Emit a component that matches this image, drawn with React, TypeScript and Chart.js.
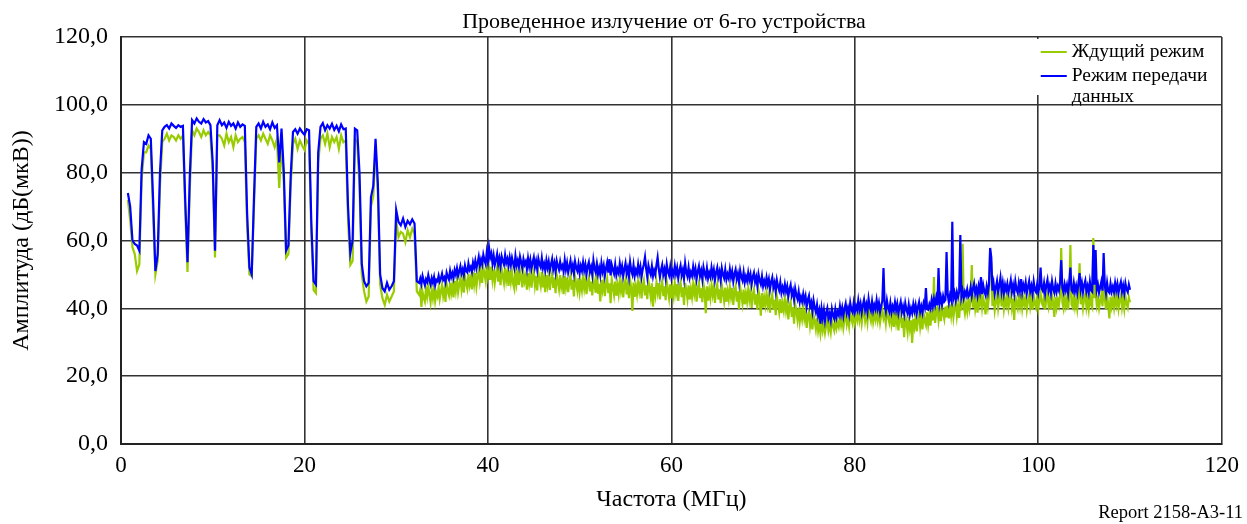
import React, { useEffect, useRef } from "react";
import { Chart, registerables } from "chart.js";

Chart.register(...registerables);

const TITLE = "Проведенное излучение от 6-го устройства";
const X_TITLE = "Частота (МГц)";
const Y_TITLE = "Амплитуда (дБ(мкВ))";
const REPORT = "Report 2158-A3-11";
const SERIES_NAMES = ["Ждущий режим", "Режим передачи данных"];

// sweep 1: 0.75 … 32.25 MHz, 0.25 MHz spacing
const SEG1_START = 0.75;
const SEG1_STEP = 0.25;
// sweep 2: 32.5 … 110 MHz, 0.125 MHz spacing
const SEG2_START = 32.5;
const SEG2_STEP = 0.125;

const X_TICKS = [0, 20, 40, 60, 80, 100, 120];
const Y_TICKS = [0, 20, 40, 60, 80, 100, 120];

// Режим передачи данных (blue), dB(µV), sweep 1
const transmitSeg1 = [
  74, 70, 60, 59, 58.5, 57, 81, 89, 88.5, 91,
  90, 72, 51, 56, 80, 92.5, 93.5, 94, 93, 94.5,
  93.8, 93.2, 94, 93.5, 93.8, 72, 53.6, 79, 95.5, 94.5,
  96, 95, 94.5, 95.8, 94.8, 95.2, 94, 83, 57, 94,
  95.5, 94, 94.8, 93.2, 95, 93.8, 94.5, 93, 94.8, 93.5,
  94.2, 93.8, 68, 52, 50, 73, 93.5, 94.5, 93, 95,
  93.5, 94.2, 92.8, 94.8, 93.2, 94, 83, 93, 80, 57,
  58.5, 79, 92, 92.8, 91.5, 93, 92, 91.2, 92.8, 92.5,
  65, 48, 47, 86, 93.5, 94.6, 92.5, 94, 93, 94.4,
  92.6, 93.8, 92.2, 94.2, 92.8, 93, 70, 56.3, 60, 93,
  92.5, 80, 53, 48, 46.5, 47.5, 72.8, 76, 90, 77,
  50, 46, 45, 47.5, 45.5, 46.5, 48, 69, 65.5, 64.5,
  66.5, 64, 65.8, 64.8, 66.2, 65, 48,
];

// Режим передачи данных (blue), sweep 2 (16 samples = 2 MHz per row)
const transmitSeg2 = [
  47.5, 48.8, 47.2, 49.5, 48.1, 46.9, 48.6, 47.8, 49.8, 48.2, 47, 48.9, 47.6, 49.2, 46.8, 48.4,
  48, 49.6, 47.9, 48.8, 50.2, 48.4, 49.1, 47.7, 50.5, 49.3, 48.5, 51, 49.2, 50.4, 48.9, 51.3,
  50, 51.8, 49.6, 50.9, 52.4, 50.3, 51.5, 49.8, 52.6, 51, 50.6, 53.2, 51.4, 52.2, 50.8, 53.5,
  52, 54, 51.8, 53.4, 55.2, 52.6, 54.4, 53, 55.8, 54.2, 53.1, 56.5, 54, 57.8, 55, 56.2,
  53.2, 55.5, 52.8, 54.2, 56, 53, 54.8, 52.5, 55.3, 53.9, 52.9, 55.7, 53.4, 54.6, 52.6, 55,
  52.8, 54.9, 53.3, 51.9, 55.4, 52.7, 54.1, 52.3, 55.2, 53.6, 51.8, 54.5, 52.9, 53.8, 51.6, 54.7,
  52.4, 54.3, 51.7, 53.5, 55, 52.2, 53.9, 51.5, 54.6, 53, 52.1, 54.8, 51.9, 53.2, 51.3, 54.1,
  52, 53.8, 51.2, 52.9, 54.5, 51.6, 53.3, 50.8, 54, 52.5, 51.4, 53.7, 51.8, 52.6, 50.9, 54.2,
  51.5, 53.4, 50.6, 52.3, 54, 51.2, 52.7, 50.3, 53.8, 52, 51, 53.1, 50.4, 52.5, 51.1, 53.6,
  51.2, 52.9, 50.1, 52.4, 53.6, 50.8, 52.2, 49.9, 54.1, 51.7, 50.6, 53, 50.2, 51.9, 49.8, 53.3,
  50.9, 52.6, 49.6, 51.8, 53.5, 50.5, 54.5, 49.7, 52.8, 51.4, 50.2, 52.9, 49.8, 51.5, 50.4, 53.2,
  50.7, 52.4, 49.5, 51.6, 53.3, 50.3, 51.9, 49.4, 53.6, 51.2, 50, 52.7, 49.6, 51.3, 50.2, 52.9,
  50.5, 52.3, 49.3, 51.5, 53, 55.1, 51.7, 49.2, 52.6, 51, 49.9, 52.4, 49.5, 51.2, 50, 52.8,
  55, 51.6, 49.2, 51.3, 52.8, 50, 51.5, 49, 52.9, 50.8, 49.7, 52.2, 49.3, 51, 49.8, 52.5,
  50.2, 51.9, 48.9, 51.1, 52.6, 49.8, 51.3, 48.8, 53.2, 50.6, 49.4, 52, 49.1, 50.7, 49.6, 52.3,
  50, 51.7, 48.7, 50.9, 52.4, 49.6, 51.1, 48.6, 52.1, 50.3, 49.2, 51.8, 48.9, 50.5, 49.3, 52,
  49.7, 51.4, 48.4, 50.6, 52, 49.3, 50.8, 48.3, 51.8, 50, 48.9, 51.4, 48.5, 50.1, 48.9, 51.5,
  49.2, 50.9, 47.9, 50.1, 51.4, 48.7, 50.2, 47.6, 51.1, 49.3, 48.2, 50.6, 47.7, 49.4, 48.1, 50.5,
  48.4, 50, 47.1, 49.3, 50.5, 47.8, 49.2, 46.6, 50, 48.2, 47.1, 49.4, 46.5, 48.1, 46.8, 49.1,
  47, 48.6, 45.6, 47.8, 49.1, 46.2, 47.6, 45, 48.3, 46.5, 45.3, 47.6, 44.6, 46.2, 44.8, 47.1,
  45, 46.5, 43.5, 45.6, 46.9, 43.9, 45.2, 42.6, 45.8, 43.9, 42.7, 44.9, 41.9, 43.4, 42, 44.2,
  42.1, 43.6, 40.5, 42.5, 43.7, 40.6, 41.8, 39.2, 42.3, 40.3, 38.9, 41, 37.9, 39.4, 35.5, 39.8,
  37.2, 39.5, 36.4, 38.6, 40, 37.1, 38.4, 36.5, 39.8, 38, 37, 39.7, 37.4, 39, 38, 40.6,
  38.3, 40.2, 37.8, 39.9, 41.4, 38.6, 40.1, 38.2, 41.6, 39.6, 38.8, 41.5, 39, 40.7, 39.5, 42.3,
  39.7, 41.4, 38.8, 40.9, 42.5, 39.6, 41.2, 39, 42.8, 40.5, 39.4, 42, 39.3, 41, 39.8, 42.4,
  39.9, 41.6, 39, 40.8, 42.2, 51.9, 41, 39.2, 42.3, 40.2, 39.1, 41.6, 38.9, 40.6, 39.4, 41.8,
  39.5, 41.3, 38.6, 40.4, 41.9, 38.9, 40.5, 38.4, 41.5, 39.6, 38.5, 41, 38.2, 40, 38.6, 41.2,
  39.2, 41, 38.5, 40.3, 41.8, 39, 40.6, 38.8, 41.5, 40.3, 46, 39.8, 39.6, 41.2, 40, 42.5,
  40.6, 42.8, 41, 43.1, 40.9, 51.9, 41.5, 43.3, 41.2, 43.6, 42, 42.5, 56.6, 44.1, 41.8, 43.9,
  42.6, 65.5, 43, 44.5, 42.4, 44.8, 43.3, 45, 61.6, 43.5, 45.2, 43.1, 44.9, 43.8, 45.6, 43.4,
  44, 46.2, 43.7, 45.8, 47.3, 44.4, 45.9, 43.8, 46.6, 44.9, 49.2, 44.2, 46.8, 45, 43.9, 46.5,
  44.6, 47, 57.8, 55, 45.2, 47.4, 44.3, 46.1, 48, 44.8, 46.7, 49, 45.1, 47.5, 44.5, 46.9,
  45.3, 47.2, 44.7, 46.4, 48.3, 44.9, 46.8, 44.4, 47.9, 45.6, 44.6, 47.4, 45.2, 48.6, 44.8, 46.9,
  45.5, 47.6, 44.5, 46.3, 48, 45, 46.6, 44.3, 47.8, 45.4, 44.8, 47.1, 44.6, 46.5, 52, 45.8,
  45.1, 47.4, 44.4, 46.8, 48.4, 45.2, 46.6, 44.5, 47.9, 45.7, 44.6, 47.3, 44.9, 46.5, 45.3, 47.7,
  54.2, 46, 44.7, 47.1, 45.3, 46.9, 44.5, 47.6, 52, 45.4, 44.8, 47.5, 45, 46.7, 44.6, 47.3,
  50.4, 45.6, 47.5, 44.8, 46.9, 48.2, 45, 46.6, 44.7, 47.8, 45.3, 44.9, 58.7, 47, 57.2, 45.5,
  47, 44.7, 46.3, 47.9, 45.2, 56.3, 46.8, 44.5, 47.6, 45.1, 44.6, 47.3, 45, 46.4, 44.8, 47.5,
  45.3, 47.2, 44.6, 46.5, 47.8, 44.9, 46.7, 44.5, 47.4, 45.6, 44.8, 47, 45.5,
];

// Ждущий режим (green), dB(µV), sweep 1
const standbySeg1 = [
  72, 66, 58, 56, 51, 53, 78, 86, 86, 88,
  87, 68, 50, 54, 76, 89, 90, 91.5, 89.5, 91,
  90.5, 89.5, 91, 90, 91, 69, 50.7, 75, 92.5, 91,
  93, 92, 90.5, 92.5, 91, 92, 91, 80, 55, 91,
  91, 90, 88, 91.5, 89, 90.5, 87.5, 91, 89, 90,
  90.5, 89, 64, 50, 49.5, 70, 90, 91, 89.5, 91.5,
  90, 88.5, 91, 89.5, 87.5, 90, 75.5, 89, 77, 55,
  56, 76, 88.5, 90, 87, 89.5, 88, 86.7, 89.5, 88.5,
  62, 45.4, 44.5, 83, 90, 91, 88.5, 91.5, 87.5, 90.5,
  89, 90.5, 87, 91, 89, 89.5, 66, 52.8, 54, 90,
  89, 76, 50, 45, 42, 43.5, 70, 73, 87, 74,
  47, 43, 41, 44, 42, 43.5, 45, 66, 61, 62.5,
  62, 59.5, 63, 61, 63.5, 62, 45,
];

// Ждущий режим (green), sweep 2 (16 samples = 2 MHz per row)
const standbySeg2 = [
  44, 45.5, 40.4, 44.8, 43.2, 42, 45.8, 43.5, 46.5, 44.2, 41.8, 45.3, 43, 46, 42.2, 44.6,
  43.5, 46.2, 42.8, 44.9, 47, 43.6, 45.5, 41.9, 47.2, 45, 43.8, 47.6, 44.5, 46.8, 43.2, 48,
  45.2, 48.3, 44.8, 47, 49.2, 45.5, 48, 44.6, 49.5, 47.3, 45.8, 50.2, 46.9, 48.8, 45.6, 50.7,
  47.2, 50.4, 46.5, 49.3, 51.6, 48, 50.6, 47.5, 52, 50.2, 48.1, 52.7, 49.5, 51.8, 48.4, 52.3,
  48.5, 51.5, 47.6, 50.2, 52.2, 47.9, 50.8, 46.8, 51.6, 49.6, 47.5, 51.9, 48.3, 50.5, 46.6, 51.2,
  48, 50.9, 47.2, 45.8, 51.5, 47.5, 50.1, 46.9, 51.2, 49.1, 46.2, 50.6, 48, 49.7, 45.5, 50.4,
  47.4, 50.2, 46.1, 49.2, 51, 46.8, 49.6, 45.3, 50.5, 48.4, 46.6, 50.7, 46.2, 49, 44.8, 49.8,
  46.9, 49.6, 45.4, 48.5, 50.4, 46, 49.1, 44.5, 49.9, 47.9, 45.7, 49.8, 46.3, 48.2, 44.2, 49.5,
  46.3, 49.1, 44.8, 47.9, 49.8, 45.5, 48.4, 43.5, 49.4, 47.2, 45.2, 48.9, 44.9, 47.7, 45.3, 48.8,
  45.9, 48.5, 44.2, 47.6, 49.3, 45, 47.9, 43.8, 48.9, 46.7, 44.6, 54, 44.3, 47.2, 42, 48.4,
  45.5, 48, 43.6, 47.1, 48.8, 44.5, 47.4, 41.5, 48.5, 46.3, 44, 47.9, 43.7, 46.8, 44.3, 48.1,
  45.2, 47.7, 43.2, 46.8, 48.4, 44.1, 47, 43, 48.3, 46, 39.2, 47.6, 43.4, 46.5, 44.1, 47.8,
  45, 47.5, 42.9, 46.6, 48.2, 43.8, 46.8, 42.7, 48, 45.8, 43.3, 47.4, 40.5, 46.3, 43.9, 47.6,
  44.8, 47.4, 42.6, 46.4, 48.1, 43.6, 46.5, 42.4, 47.8, 45.5, 43, 47.1, 42.9, 46, 43.6, 47.3,
  44.5, 47.1, 42.2, 46.1, 47.8, 43.3, 46.2, 41, 47.5, 45.2, 42.8, 46.8, 42.6, 45.7, 43.3, 47,
  44.3, 46.8, 42, 45.8, 47.5, 43, 45.9, 41.8, 47.2, 44.9, 38.6, 46.5, 42.3, 45.4, 43, 46.7,
  44, 46.5, 41.6, 45.5, 47.1, 42.6, 45.6, 41.5, 46.8, 44.6, 42.1, 46.1, 41.9, 45, 42.7, 46.3,
  43.4, 46, 41, 44.9, 46.5, 42, 45, 39.8, 46.2, 44, 41.5, 45.5, 41.2, 44.3, 42, 45.6,
  42.6, 45.1, 40.1, 44.1, 45.6, 41.1, 44.1, 39.6, 45.2, 43, 37.8, 44.5, 40.2, 43.2, 41, 44.4,
  41.2, 43.6, 38.7, 42.6, 44.2, 39.6, 42.5, 38, 43.6, 41.4, 39, 42.7, 38.6, 41.5, 39.4, 42.6,
  39.3, 41.6, 36.7, 40.6, 42, 37.5, 40.4, 35.5, 41.3, 39.1, 36.6, 40.2, 36.2, 39, 36.8, 40,
  36.9, 38.9, 34.2, 37.8, 39.1, 34.9, 37.5, 33.8, 38.1, 36.3, 33.9, 37.2, 33.5, 35.8, 32.7, 36,
  33.5, 35.6, 32.8, 35, 36.6, 33.4, 35.2, 33, 36.5, 34.8, 33.5, 36.6, 34.2, 36, 34.6, 37.2,
  35, 37.2, 34.3, 36.8, 38.5, 35.4, 37.4, 34.8, 38.8, 36.9, 35.5, 39, 36, 38, 36.5, 39.6,
  36.5, 38.8, 35.6, 38.3, 40, 36.4, 38.6, 35.9, 40.2, 37.8, 36.3, 39.5, 36.1, 38.4, 36.7, 39.8,
  36.6, 38.9, 35.8, 38.1, 39.6, 37, 38.3, 35.6, 39.8, 37.5, 35.9, 39, 35.4, 37.8, 34.5, 38.9,
  35.8, 38.3, 33.5, 37.4, 38.9, 34.2, 37.2, 31.5, 38.2, 35.6, 33, 37.4, 34.1, 36.5, 29.8, 36.9,
  34.6, 37.4, 33.2, 36.8, 38.6, 34.5, 37.3, 33.8, 38.5, 36.2, 35, 38.8, 35.2, 37.9, 34.9, 39.3,
  36.4, 49.2, 35.7, 38.9, 40.4, 36.6, 39.5, 36.2, 40.8, 38.4, 36.8, 40.5, 37.3, 40.9, 37, 41.2,
  38, 41.5, 37.4, 40.2, 41.9, 37.8, 40.6, 37.2, 41.8, 39.3, 59, 40.7, 38.5, 41.3, 39, 42.3,
  39.8, 42.4, 52.8, 40.2, 43.8, 39.9, 42.5, 38.7, 43.6, 41.3, 44, 40.2, 43.1, 41, 38.2, 42.8,
  40.4, 43.5, 57.2, 53, 40.7, 43.4, 39.5, 42.3, 44.2, 40.1, 42.8, 44.5, 40.6, 43.6, 39.8, 42.7,
  41, 43.6, 40.2, 42.6, 44.3, 40.3, 42.9, 36.6, 43.9, 41.4, 40, 43.5, 40.8, 44.2, 40.1, 42.9,
  41.2, 43.8, 39.8, 42.5, 44, 40.5, 42.8, 39.6, 43.8, 41.3, 40.2, 43.2, 40, 42.6, 44.5, 41.5,
  40.8, 43.6, 39.6, 42.9, 44.3, 40.7, 42.7, 39.8, 43.9, 41.6, 37.5, 43.4, 40.3, 42.5, 40.9, 43.8,
  57.8, 41.8, 40, 43.3, 40.8, 43, 39.7, 43.6, 58.7, 41.2, 40.3, 43.6, 40.5, 42.8, 39.9, 43.4,
  53.3, 41.2, 43.6, 40.1, 43, 44.3, 40.4, 42.8, 39.9, 43.9, 41, 40.2, 60.7, 43, 45, 41,
  42.9, 40.1, 42.5, 44, 40.6, 47, 42.9, 39.8, 43.7, 41, 37, 43.4, 40.6, 42.6, 40.2, 43.7,
  41.1, 43.5, 40, 42.7, 44, 40.3, 42.8, 39.9, 43.6, 41.4, 40.2, 43.2, 41.8,
];

const GREEN = "#99cc00";
const BLUE = "#0000ff";
const FONT = "'Liberation Serif', 'Times New Roman', serif";

const toPoints = (seg1: number[], seg2: number[]) => [
  ...seg1.map((v, i) => ({ x: SEG1_START + i * SEG1_STEP, y: v })),
  ...seg2.map((v, i) => ({ x: SEG2_START + i * SEG2_STEP, y: v })),
];

const decorPlugin = {
  id: "decor",
  afterDraw(chart: any) {
    const { ctx, chartArea } = chart;
    const { left, right, top, bottom } = chartArea;
    ctx.save();
    ctx.fillStyle = "#000";
    ctx.textAlign = "center";
    ctx.textBaseline = "middle";
    ctx.font = `22px ${FONT}`;
    ctx.fillText(TITLE, 664, 22);
    ctx.font = `24px ${FONT}`;
    ctx.fillText(X_TITLE, (left + right) / 2, 500);
    ctx.save();
    ctx.translate(22, (top + bottom) / 2);
    ctx.rotate(-Math.PI / 2);
    ctx.fillText(Y_TITLE, 0, 0);
    ctx.restore();
    ctx.font = `18.5px ${FONT}`;
    ctx.textAlign = "right";
    ctx.fillText(REPORT, 1243, 513);

    // legend
    const lx = right - 192;
    ctx.fillStyle = "#fff";
    ctx.fillRect(lx, top + 2, right - lx - 2, 56);
    ctx.lineWidth = 2;
    ctx.strokeStyle = GREEN;
    ctx.beginPath();
    ctx.moveTo(lx + 11, top + 15);
    ctx.lineTo(lx + 37, top + 15);
    ctx.stroke();
    ctx.strokeStyle = BLUE;
    ctx.beginPath();
    ctx.moveTo(lx + 11, top + 39);
    ctx.lineTo(lx + 37, top + 39);
    ctx.stroke();
    ctx.fillStyle = "#000";
    ctx.font = `19.5px ${FONT}`;
    ctx.textAlign = "left";
    ctx.fillText(SERIES_NAMES[0], lx + 42, top + 15);
    ctx.fillText("Режим передачи", lx + 42, top + 39);
    ctx.fillText("данных", lx + 42, top + 60);
    ctx.restore();
  },
};

export default function App() {
  const ref = useRef<HTMLCanvasElement | null>(null);
  useEffect(() => {
    document.body.style.margin = "0";
    const canvas = ref.current;
    if (!canvas) return;
    const chart = new Chart(canvas, {
      type: "line",
      data: {
        datasets: [
          {
            label: SERIES_NAMES[0],
            data: toPoints(standbySeg1, standbySeg2),
            borderColor: GREEN,
            backgroundColor: GREEN,
            borderWidth: 2.2,
            pointRadius: 0,
            tension: 0,
            order: 1,
          },
          {
            label: SERIES_NAMES[1],
            data: toPoints(transmitSeg1, transmitSeg2),
            borderColor: BLUE,
            backgroundColor: BLUE,
            borderWidth: 2.2,
            pointRadius: 0,
            tension: 0,
            order: 0,
          },
        ],
      },
      options: {
        responsive: false,
        animation: false,
        events: [],
        layout: { padding: { left: 0, right: 23, top: 37, bottom: 0 } },
        plugins: {
          legend: { display: false },
          title: { display: false },
          tooltip: { enabled: false },
        },
        scales: {
          x: {
            type: "linear",
            min: 0,
            max: 120,
            afterBuildTicks: (s: any) => {
              s.ticks = X_TICKS.map((v) => ({ value: v }));
            },
            afterFit: (s: any) => {
              s.height = 80;
            },
            ticks: {
              color: "#000",
              padding: 8,
              maxRotation: 0,
              font: { family: FONT, size: 23 },
              callback: (v: any) => String(v),
            },
            grid: { color: "#333333", lineWidth: 1.6, drawTicks: false },
            border: { display: true, color: "#222", width: 2 },
          },
          y: {
            type: "linear",
            min: 0,
            max: 120,
            afterBuildTicks: (s: any) => {
              s.ticks = Y_TICKS.map((v) => ({ value: v }));
            },
            afterFit: (s: any) => {
              s.width = 121;
            },
            ticks: {
              color: "#000",
              padding: 13,
              font: { family: FONT, size: 24 },
              callback: (v: any) => Number(v).toFixed(1).replace(".", ","),
            },
            grid: { color: "#333333", lineWidth: 1.6, drawTicks: false },
            border: { display: true, color: "#222", width: 2 },
          },
        },
      },
      plugins: [decorPlugin],
    });
    return () => chart.destroy();
  }, []);
  return (
    <canvas
      ref={ref}
      width={1247}
      height={524}
      style={{ display: "block", width: 1247, height: 524 }}
    />
  );
}
